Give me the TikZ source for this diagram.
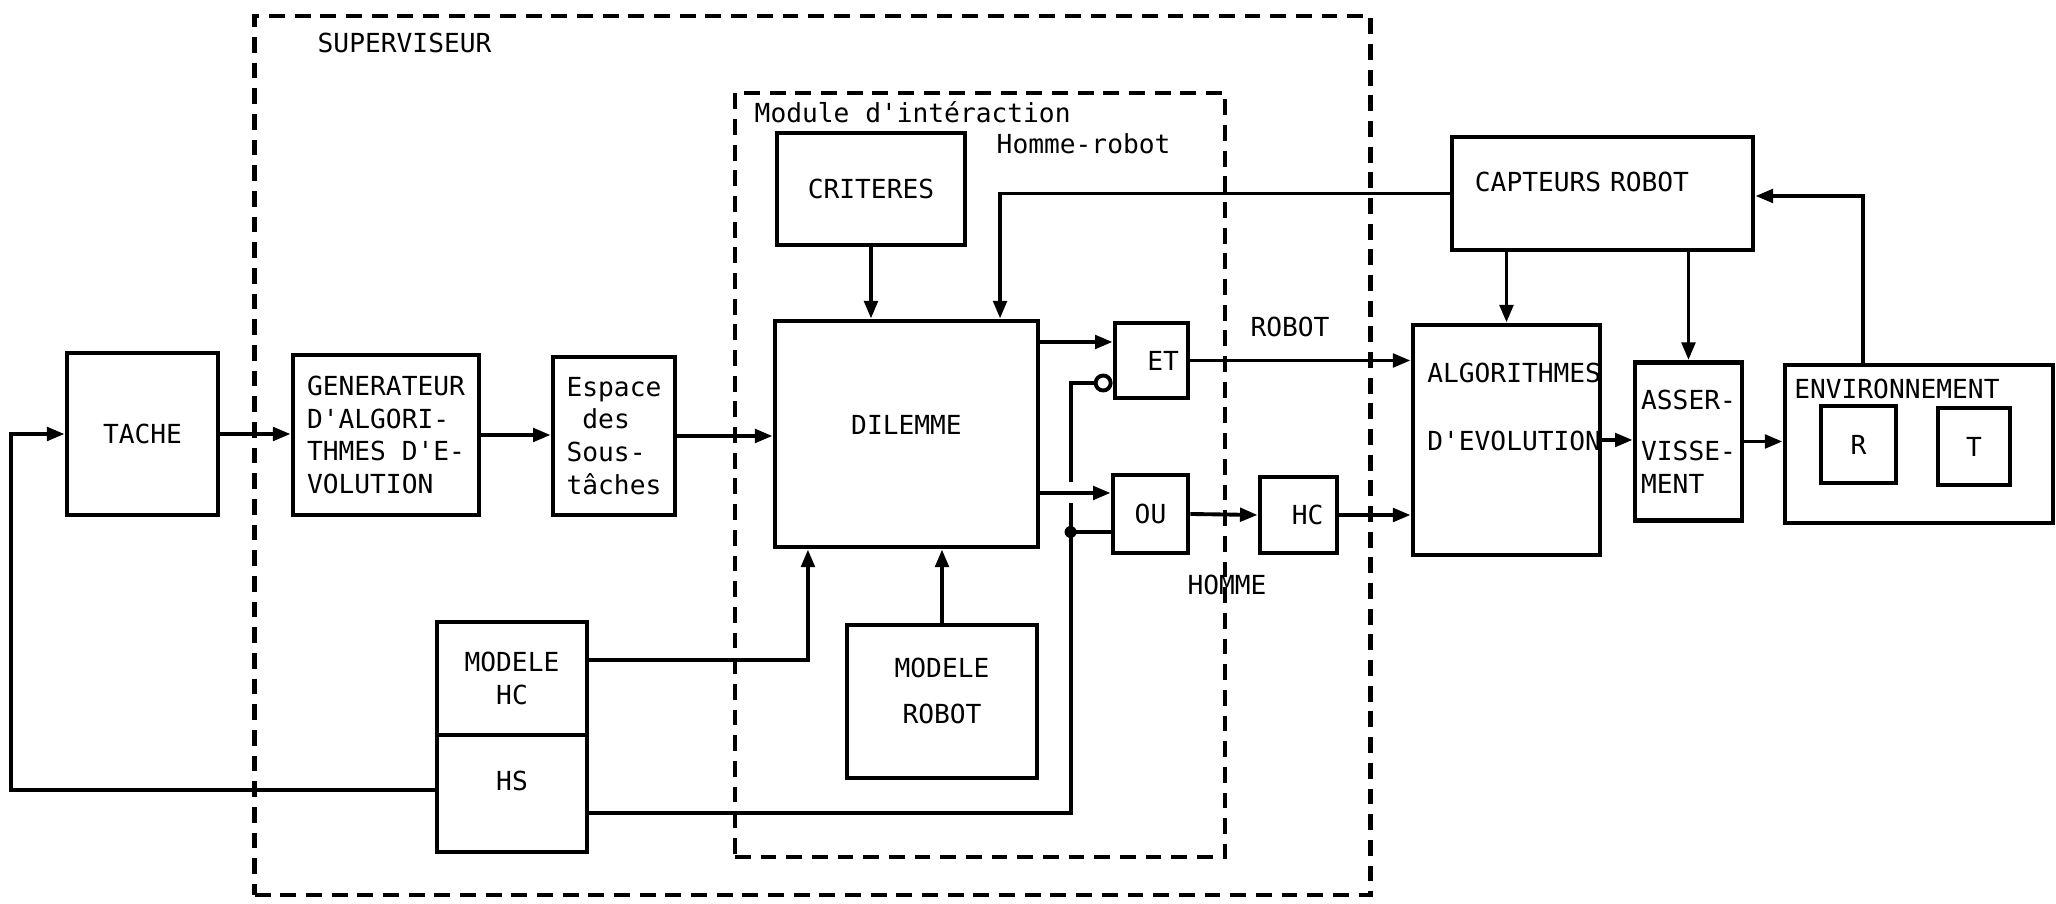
\documentclass[tikz,border=0pt]{standalone}
\usepackage{fontspec}
\newfontfamily\tw{DejaVu Sans Mono}[Ligatures=TeXOff]
\usetikzlibrary{arrows.meta,positioning}

\begin{document}
\begin{tikzpicture}[
  x=0.01cm, y=-0.01cm,
  font=\tw\fontsize{7.46}{9.35}\selectfont,
  >={Triangle[length=5pt,width=3.8pt]},
  blk/.style={
    draw, line width=1.35pt,
    inner sep=0pt, align=center
  },
  frame/.style={
    draw, line width=1.25pt,
    dash pattern=on 4.5pt off 2.8pt,
    inner sep=0pt
  },
  arr/.style={->, line width=1.1pt},
  ln/.style={line width=1.1pt},
  txt/.style={inner sep=0pt}
]
\useasboundingbox (0,0) rectangle (2056,904);

%% ── Dashed frames ───────────────────────────────────────────────────
\node[frame, minimum width=11.15cm, minimum height=8.79cm] (sup) at (812.5,455.5) {};
\node[txt, anchor=west] (suplbl) at (317,43) {SUPERVISEUR};

\node[frame, minimum width=4.9cm, minimum height=7.64cm] (mod) at (980,475) {};
\node[txt, anchor=west] (modlbl) at (754,112) {Module d'intéraction};
\node[txt, anchor=west] (hrlbl) at (996,144) {Homme-robot};

%% ── Main chain ──────────────────────────────────────────────────────
\node[blk, minimum width=1.51cm, minimum height=1.62cm] (tache) at (142.5,434) {TACHE};
\node[blk, align=left, minimum width=1.86cm, minimum height=1.6cm] (gen) at (386,435) {
  GENERATEUR\\
  D'ALGORI-\\
  THMES D'E-\\
  VOLUTION
};
\node[blk, align=left, minimum width=1.22cm, minimum height=1.58cm] (esp) at (614,436) {
  Espace\\
  \hphantom{E}des\\
  Sous-\\
  tâches
};
\node[blk, minimum width=2.63cm, minimum height=2.26cm, text depth=0.18cm] (dil) at (906.5,434) {DILEMME};
\node[blk, minimum width=1.88cm, minimum height=1.12cm] (crit) at (871,189) {CRITERES};

\draw[arr] (tache.east) -- (tache.east -| gen.west);
\draw[arr] (gen.east) -- (gen.east -| esp.west);
\draw[arr] (esp.east) -- (esp.east -| dil.west);
\draw[arr] (crit.south) -- (crit.south |- dil.north);

%% ── Gates ET / OU and HC ────────────────────────────────────────────
\node[blk, minimum width=0.73cm, minimum height=0.75cm, text width=0.55cm, align=right] (et) at (1151.5,360.5) {ET};
\node[blk, minimum width=0.75cm, minimum height=0.78cm] (ou) at (1150.5,514) {OU};
\node[blk, minimum width=0.77cm, minimum height=0.76cm, text width=0.5cm, align=right] (hc) at (1298.5,515) {HC};

\coordinate (etin) at ([yshift=0.185cm]et.west);
\coordinate (etneg) at ([yshift=-0.225cm]et.west);
\coordinate (ouin) at ([yshift=0.21cm]ou.west);
\coordinate (ousig) at ([yshift=-0.18cm]ou.west);
\node[circle, draw, line width=1.1pt, minimum size=0.15cm, inner sep=0pt, anchor=east] (bub) at (etneg) {};

\draw[arr] (dil.east |- etin) -- (etin);
\draw[arr] (dil.east |- ouin) -- (ouin);
\draw[arr] (ou.east) -- (hc.west);

\node[txt] (robotlbl) at (1290,327) {ROBOT};
\node[txt] (hommelbl) at (1227,585) {HOMME};

%% ── Robot side ──────────────────────────────────────────────────────
\node[blk, minimum width=1.87cm, minimum height=2.3cm] (algo) at (1506.5,440) {};
\node[txt, anchor=north west, align=left] (algotxt) at ([xshift=0.16cm,yshift=-0.4cm]algo.north west) {
  ALGORITHMES\\[3.5mm]
  D'EVOLUTION
};
\node[blk, minimum width=3.01cm, minimum height=1.13cm, text width=2.55cm, align=left, text depth=0.23cm] (capt) at (1602.5,193.5) {CAPTEURS ROBOT};
\node[blk, align=left, minimum width=1.07cm, minimum height=1.58cm] (asser) at (1688.5,441.5) {
  ASSER-\\[1.8mm]
  VISSE-\\
  MENT
};
\node[blk, minimum width=2.68cm, minimum height=1.58cm] (env) at (1919,444) {};
\node[txt, anchor=north west] (envtxt) at ([xshift=0.11cm,yshift=-0.16cm]env.north west) {ENVIRONNEMENT};
\node[blk, minimum width=0.75cm, minimum height=0.77cm] (rob) at (1858.5,444.5) {R};
\node[blk, minimum width=0.72cm, minimum height=0.77cm] (tsk) at (1974,446.5) {T};

\draw[arr] (et.east) -- (et.east -| algo.west);
\draw[arr] (hc.east) -- (hc.east -| algo.west);
\draw[arr] (algo.north |- capt.south) -- (algo.north);
\draw[arr] (asser.north |- capt.south) -- (asser.north);
\draw[arr] (algo.east) -- (algo.east -| asser.west);
\draw[arr] (asser.east) -- (asser.east -| env.west);
\draw[arr] ([xshift=-0.56cm]env.north) |- ([yshift=-0.025cm]capt.east);
\draw[arr] (capt.west) -| ([xshift=0.935cm]dil.north);

%% ── Models ──────────────────────────────────────────────────────────
\node[blk, minimum width=1.5cm, minimum height=1.13cm] (mhc) at (512,678.5) {MODELE\\HC};
\node[blk, minimum width=1.5cm, minimum height=1.17cm, text depth=0.26cm, below=-1.35pt of mhc] (hs) {HS};
\node[blk, minimum width=1.9cm, minimum height=1.53cm, text depth=0.22cm] (mrob) at (942,701.5) {MODELE\\[1.3mm]ROBOT};

\draw[arr] ([yshift=0.185cm]mhc.east) -| ([xshift=-0.985cm]dil.south);
\draw[arr] (mrob.north) -- (mrob.north |- dil.south);

%% HS feeds the gates, and loops back to TACHE
\coordinate (jn) at ([xshift=-0.4cm]ousig);
\draw[ln] ([yshift=-0.19cm]hs.east) -| (jn) -- (ousig);
\draw[ln] (jn) -- ++(0,-29) ++(0,-21) |- (bub.west);
\fill (jn) circle[radius=0.06cm];

\draw[arr] ([yshift=0.035cm]hs.west) -- ++(-424,0) |- (tache.west);

\end{tikzpicture}
\end{document}
